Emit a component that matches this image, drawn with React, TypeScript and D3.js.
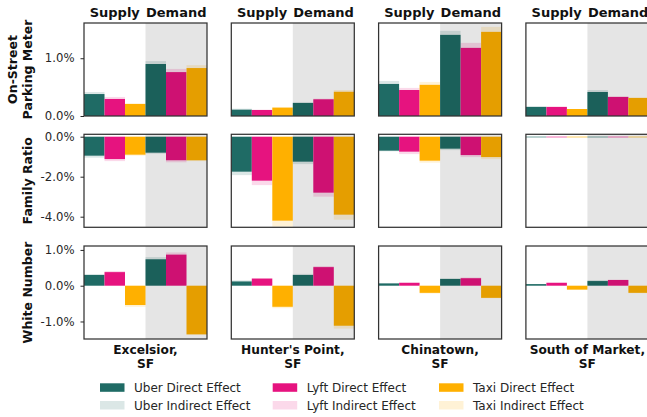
import React, { useEffect, useRef } from 'react';
import * as d3 from 'd3';

const neighborhoods = ['Excelsior,\nSF', "Hunter's Point,\nSF", 'Chinatown,\nSF', 'South of Market,\nSF'];
const metrics = ['On-Street\nParking Meter', 'Family Ratio', 'White Number'];
const companies = ['Uber', 'Lyft', 'Taxi'];
const colors = ['#1f6b65', '#e6137f', '#ffb000'];
const halves = ['Supply', 'Demand'];

// each row: [Uber supply, Lyft supply, Taxi supply, Uber demand, Lyft demand, Taxi demand] in %
const parkingDirect = [
  [0.38, 0.295, 0.21, 0.9, 0.76, 0.83],
  [0.11, 0.104, 0.145, 0.225, 0.29, 0.42],
  [0.555, 0.45, 0.54, 1.405, 1.18, 1.457],
  [0.156, 0.156, 0.121, 0.416, 0.33, 0.312],
];
const parkingIndirect = [
  [0.035, 0.035, 0.0, 0.05, 0.055, 0.05],
  [0.017, 0.006, 0.011, 0.018, 0.01, 0.03],
  [0.052, 0.036, 0.05, 0.069, 0.086, 0.086],
  [0.017, 0.012, 0.0, 0.034, 0.01, 0.012],
];
const familyDirect = [
  [-0.95, -1.12, -0.9, -0.8, -1.18, -1.18],
  [-1.75, -2.2, -4.2, -1.25, -2.8, -3.9],
  [-0.7, -0.75, -1.2, -0.6, -0.92, -1.02],
  [-0.03, -0.03, -0.03, -0.03, -0.03, -0.03],
];
const familyIndirect = [
  [-0.1, -0.1, -0.05, -0.05, -0.1, -0.04],
  [-0.17, -0.22, -0.3, -0.12, -0.2, -0.25],
  [-0.03, -0.12, -0.1, -0.07, -0.1, -0.1],
  [0, 0, 0, 0, 0, 0],
];
const whiteDirect = [
  [0.3, 0.38, -0.54, 0.74, 0.87, -1.36],
  [0.12, 0.2, -0.59, 0.3, 0.52, -1.12],
  [0.065, 0.08, -0.2, 0.19, 0.21, -0.34],
  [0.045, 0.08, -0.11, 0.13, 0.16, -0.2],
];
const whiteIndirect = [
  [0.025, 0.03, -0.05, 0.06, 0.06, -0.02],
  [0.03, 0.01, -0.04, 0.03, 0.03, -0.08],
  [0.0, 0.02, -0.02, 0.01, 0.02, -0.01],
  [0.0, 0.02, -0.01, 0.03, 0.01, -0.01],
];
const rowDirect = [parkingDirect, familyDirect, whiteDirect];
const rowIndirect = [parkingIndirect, familyIndirect, whiteIndirect];
const rowDomains = [[0, 1.61], [-4.53, 0.12], [-1.49, 1.11]];
const rowTicks = [[0, 1], [0, -2, -4], [-1, 0, 1]];

export default function App() {
  const ref = useRef<SVGSVGElement>(null);

  useEffect(() => {
    const svg = d3.select(ref.current);
    svg.selectAll('*').remove();
    const font = 'DejaVu Sans, sans-serif';
    const panelW = 123;
    const panelH = 93;
    const colLeft = (c: number) => 84 + c * 147.3;
    const rowTop = [23, 134.3, 246];
    const x = d3.scaleBand<number>().domain(d3.range(6)).range([0, panelW]).padding(0);

    metrics.forEach((metric, r) => {
      const y = d3.scaleLinear().domain(rowDomains[r]).range([panelH, 0]);
      neighborhoods.forEach((nb, c) => {
        const g = svg.append('g').attr('transform', `translate(${colLeft(c)}, ${rowTop[r]})`);
        const direct = rowDirect[r][c];
        const indirect = rowIndirect[r][c];

        // indirect effect stacked beyond the direct bar
        g.selectAll('.ind')
          .data(direct)
          .join('rect')
          .attr('x', (d, i) => x(i)!)
          .attr('width', x.bandwidth())
          .attr('y', (d, i) => y(Math.max(d, d + indirect[i])))
          .attr('height', (d, i) => Math.abs(y(d) - y(d + indirect[i])))
          .attr('fill', (d, i) => colors[i % 3])
          .attr('fill-opacity', 0.16);

        g.selectAll('.dir')
          .data(direct)
          .join('rect')
          .attr('x', (d, i) => x(i)!)
          .attr('width', x.bandwidth())
          .attr('y', d => y(Math.max(0, d)))
          .attr('height', d => Math.abs(y(d) - y(0)))
          .attr('fill', (d, i) => colors[i % 3]);

        // demand half shading
        g.append('rect')
          .attr('x', panelW / 2)
          .attr('y', 0)
          .attr('width', panelW / 2)
          .attr('height', panelH)
          .attr('fill', '#000')
          .attr('fill-opacity', 0.1);

        g.append('rect')
          .attr('width', panelW)
          .attr('height', panelH)
          .attr('fill', 'none')
          .attr('stroke', '#333')
          .attr('stroke-width', 1.25);

        if (c === 0) {
          const axis = d3
            .axisLeft(y)
            .tickValues(rowTicks[r])
            .tickSize(3.5)
            .tickPadding(6)
            .tickFormat(d => `${(+d).toFixed(1)}%`);
          const ag = g.append('g').call(axis);
          ag.select('.domain').remove();
          ag.selectAll('line').attr('stroke', '#262626');
          ag.selectAll('text').attr('font-family', font).attr('font-size', 11.7).attr('fill', '#262626');

          const lines = metric.split('\n');
          const t = svg
            .append('text')
            .attr('transform', `translate(${lines.length > 1 ? 13 : 28}, ${rowTop[r] + panelH / 2}) rotate(-90)`)
            .attr('text-anchor', 'middle')
            .attr('font-family', font)
            .attr('font-weight', 'bold')
            .attr('font-size', 12.5)
            .attr('fill', '#111');
          lines.forEach((l, i) => t.append('tspan').attr('x', 0).attr('dy', i === 0 ? '0.35em' : '1.2em').text(l));
        }

        if (r === 0) {
          halves.forEach((h, i) => {
            g.append('text')
              .attr('x', panelW / 4 + (i * panelW) / 2)
              .attr('y', -6)
              .attr('text-anchor', 'middle')
              .attr('font-family', font)
              .attr('font-weight', 'bold')
              .attr('font-size', 13)
              .attr('fill', '#111')
              .text(h);
          });
        }

        if (r === 2) {
          nb.split('\n').forEach((l, i) => {
            g.append('text')
              .attr('x', panelW / 2)
              .attr('y', panelH + 15 + i * 14)
              .attr('text-anchor', 'middle')
              .attr('font-family', font)
              .attr('font-weight', 'bold')
              .attr('font-size', 12.2)
              .attr('fill', '#111')
              .text(l);
          });
        }
      });
    });

    // legend
    const legX = [100, 272.7, 439];
    companies.forEach((co, i) => {
      ['Direct', 'Indirect'].forEach((kind, k) => {
        const ly = 383.3 + k * 17.7;
        svg
          .append('rect')
          .attr('x', legX[i])
          .attr('y', ly)
          .attr('width', 24.5)
          .attr('height', 8.5)
          .attr('fill', colors[i])
          .attr('fill-opacity', k === 0 ? 1 : 0.16);
        svg
          .append('text')
          .attr('x', legX[i] + 34)
          .attr('y', ly + 8.5)
          .attr('font-family', font)
          .attr('font-size', 12)
          .attr('fill', '#262626')
          .text(`${co} ${kind} Effect`);
      });
    });
  }, []);

  return (
    <svg
      ref={ref}
      width={647}
      height={417}
      style={{ position: 'absolute', left: 0, top: 0, background: '#fff' }}
    />
  );
}
